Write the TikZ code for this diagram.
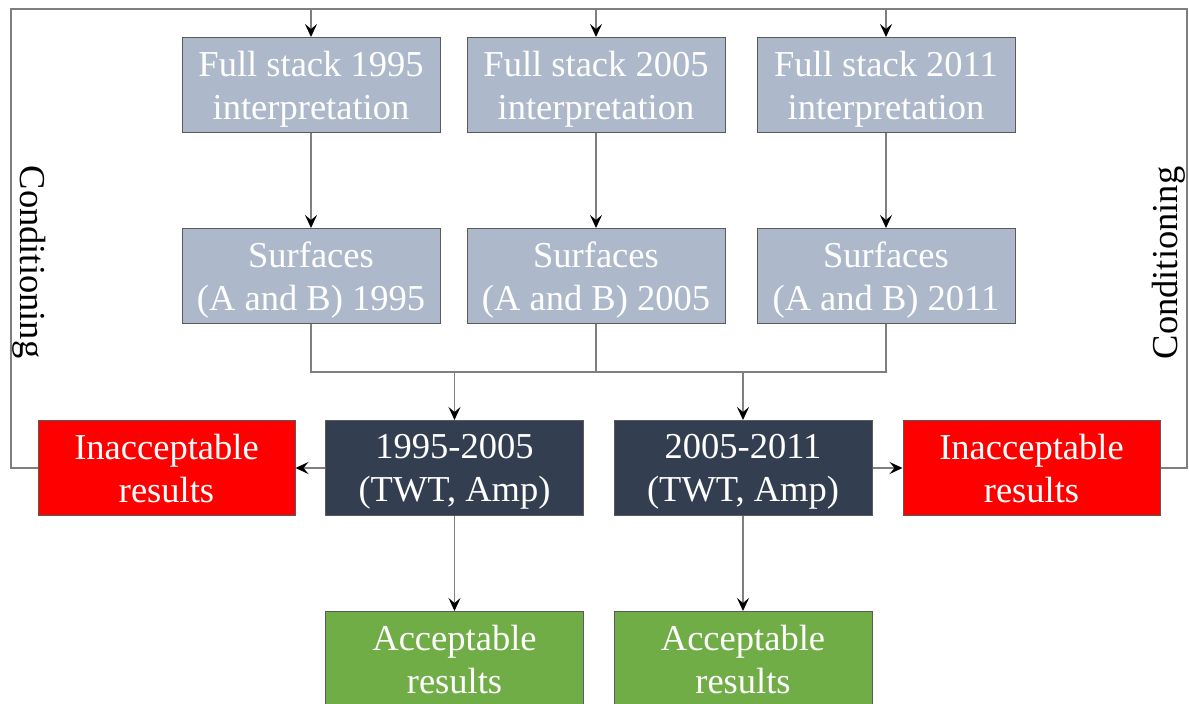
\documentclass[tikz,border=0pt]{standalone}
\usepackage{fontspec}
\setmainfont{Liberation Serif}
\usetikzlibrary{arrows.meta}
\definecolor{lightbox}{HTML}{ADB9CA}
\definecolor{darkbox}{HTML}{333F50}
\definecolor{redbox}{HTML}{FF0000}
\definecolor{greenbox}{HTML}{70AD47}
\definecolor{edgegrey}{HTML}{5A5A5A}
\definecolor{linegrey}{HTML}{7F7F7F}
\tikzset{
  box/.style={draw=edgegrey, line width=1pt, minimum width=258pt, minimum height=95pt,
    inner sep=0pt, align=center, text=white, font=\fontsize{36.5}{43}\selectfont,
    text depth=0pt},
  lightb/.style={box, fill=lightbox},
  darkb/.style={box, fill=darkbox},
  redb/.style={box, fill=redbox, minimum width=257pt},
  greenb/.style={box, fill=greenbox},
  conn/.style={draw=linegrey, line width=1.3pt},
  arr/.style={conn, -{Stealth[length=13pt,width=12pt,inset=5pt,color=black]}},
  lbl/.style={font=\fontsize{36.5}{43}\selectfont, text=black, inner sep=0pt}
}
\begin{document}
\begin{tikzpicture}[x=1pt,y=-1pt]
\useasboundingbox (0,0) rectangle (1189,704);
% top row
\node[lightb] (t1) at (311,85) {Full stack 1995\\interpretation};
\node[lightb] (t2) at (596,85) {Full stack 2005\\interpretation};
\node[lightb] (t3) at (886,85) {Full stack 2011\\interpretation};
% surfaces
\node[lightb] (s1) at (311,276) {Surfaces\\(A and B) 1995};
\node[lightb] (s2) at (596,276) {Surfaces\\(A and B) 2005};
\node[lightb] (s3) at (886,276) {Surfaces\\(A and B) 2011};
% third row
\node[redb] (rl) at (166.5,468) {Inacceptable\\results};
\node[darkb] (d1) at (454.5,468) {1995-2005\\(TWT, Amp)};
\node[darkb] (d2) at (743,468) {2005-2011\\(TWT, Amp)};
\node[redb] (rr) at (1031.5,468) {Inacceptable\\results};
% bottom row
\node[greenb] (g1) at (454.5,659) {Acceptable\\results};
\node[greenb] (g2) at (743,659) {Acceptable\\results};
% conditioning labels
\node[lbl, rotate=-90] (cl) at (29,262) {Conditioning};
\node[lbl, rotate=90] (cr) at (1169,263) {Conditioning};
% coordinates
\coordinate (tl) at (11,9);
\coordinate (tr) at (1187,9);
\coordinate (bus) at (0,372);
% feedback loop
\draw[conn] (rl.west) -| (tl) -- (tr) |- (rr.east);
\draw[arr] (t1.north |- tl) -- (t1.north);
\draw[arr] (t2.north |- tl) -- (t2.north);
\draw[arr] (t3.north |- tl) -- (t3.north);
% top to surfaces
\draw[arr] (t1) -- (s1);
\draw[arr] (t2) -- (s2);
\draw[arr] (t3) -- (s3);
% surfaces bus
\draw[conn] (s1.south) -- (s1.south |- bus) -- (s3.south |- bus) -- (s3.south);
\draw[conn] (s2.south) -- (s2.south |- bus);
\draw[arr] (d1.north |- bus) -- (d1.north);
\draw[arr] (d2.north |- bus) -- (d2.north);
% to red and green
\draw[arr] (d1.west) -- (rl.east);
\draw[arr] (d2.east) -- (rr.west);
\draw[arr] (d1) -- (g1);
\draw[arr] (d2) -- (g2);
\end{tikzpicture}
\end{document}
